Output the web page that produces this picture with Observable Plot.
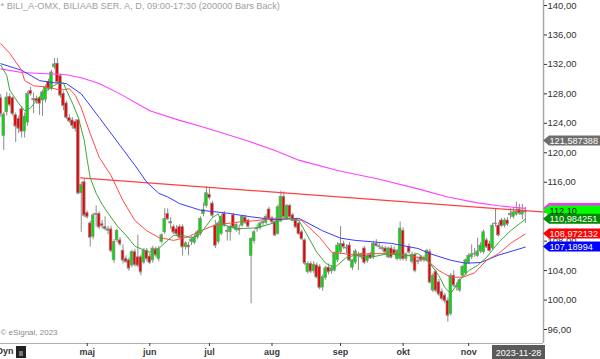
<!DOCTYPE html>
<html>
<head>
<meta charset="utf-8">
<script src="https://cdn.jsdelivr.net/npm/d3@7"></script>
<script src="https://cdn.jsdelivr.net/npm/@observablehq/plot@0.6"></script>
<style>
html,body{margin:0;padding:0;background:#fff;}
#chart{width:600px;height:359px;overflow:hidden;}
svg{display:block;}
</style>
</head>
<body>
<div id="chart"></div>
<script>
// ---- Daily OHLC, BILI_A (trading-day index 0 = 2023-03-17 ... 176 = 2023-11-28)
const opens = [127.4,122.3,125.5,127.6,127.4,125.1,124.6,125.9,122.9,124.1,128.4,127.3,127.3,127.4,127.1,127.2,129.6,128.7,131.6,132.1,
130.4,128.0,126.7,124.7,124.4,124.2,124.4,114.5,116.0,111.8,110.4,108.6,111.6,111.7,110.3,109.9,109.4,109.6,105.4,108.1,
108.1,106.7,105.6,105.4,104.7,106.5,105.8,105.8,105.1,106.7,105.9,105.4,106.9,105.6,107.9,109.2,111.7,110.4,109.9,109.6,
109.9,109.9,107.2,107.4,107.9,107.8,108.5,109.0,111.7,112.8,114.3,113.1,110.1,107.9,109.0,111.7,109.4,109.2,111.5,109.5,
109.6,110.1,111.2,110.8,106.0,108.0,109.6,109.8,110.4,110.5,112.3,111.1,110.6,109.0,110.8,114.0,111.0,112.8,111.5,110.8,
110.4,109.2,108.1,103.8,104.9,103.9,104.7,104.5,101.7,103.0,104.4,103.9,104.0,105.4,106.5,107.6,107.0,107.4,104.4,105.1,
106.1,105.8,107.0,105.3,106.1,105.8,107.6,107.2,106.9,107.0,105.8,107.0,106.8,105.6,105.6,109.4,105.6,107.2,105.2,106.1,
105.2,105.8,105.4,105.4,106.5,101.3,103.8,102.4,101.1,100.6,99.9,98.1,103.3,101.7,101.3,103.3,103.6,105.0,105.8,106.2,
106.0,106.6,106.5,108.1,107.6,107.0,110.3,110.1,110.8,110.1,110.8,111.5,111.3,111.6,112.3,111.6,111.9];
const highs = [127.9,125.5,128.2,128.0,127.6,125.4,125.0,126.2,125.4,128.3,128.9,128.1,127.7,127.6,128.5,129.2,130.0,131.2,132.8,132.8,
130.7,128.3,127.0,125.2,124.8,124.5,124.6,116.0,116.4,112.1,110.7,111.8,112.8,112.0,110.8,111.3,110.0,110.0,108.2,109.6,
108.5,107.5,106.0,105.7,106.8,106.9,108.8,106.1,107.0,107.0,106.3,107.3,107.2,107.3,109.0,112.4,112.4,111.2,110.2,110.1,
110.2,110.2,107.9,107.8,108.6,108.8,109.5,111.3,113.2,115.4,115.2,113.4,110.8,110.7,111.6,112.0,110.0,110.2,111.8,110.5,
110.2,111.5,111.5,111.0,108.5,109.5,110.2,110.6,110.9,111.6,112.6,111.4,110.9,112.9,114.8,114.7,113.0,113.0,111.8,111.0,
110.6,109.5,108.3,105.2,105.2,105.2,105.0,104.8,103.4,104.6,104.9,104.7,106.5,107.8,110.0,108.0,107.5,107.8,105.5,106.9,
106.5,106.4,107.3,106.2,106.5,107.9,108.2,107.8,107.4,107.3,107.2,107.4,107.2,106.9,110.6,109.8,106.4,107.6,106.5,106.4,
105.8,106.1,106.0,106.9,106.9,103.6,104.1,102.8,101.5,100.9,100.3,103.6,104.0,102.4,102.9,104.7,105.6,106.3,107.5,107.0,
108.4,107.8,109.5,108.4,108.0,110.4,112.4,110.5,111.1,111.1,111.2,112.4,112.5,113.3,113.0,113.0,112.6];
const lows = [124.8,120.3,125.0,126.2,125.0,121.4,122.6,122.0,122.0,123.6,127.7,125.3,126.6,125.1,124.9,126.8,128.4,128.4,131.3,129.3,
127.4,125.7,124.5,124.0,123.2,122.8,114.3,109.2,111.2,111.0,107.2,108.2,109.9,109.6,109.6,109.4,108.9,106.4,105.0,107.8,
107.3,104.9,105.0,103.9,104.4,104.5,104.4,103.3,104.8,105.2,104.8,105.0,105.8,105.2,107.6,108.9,110.8,109.6,108.9,108.7,
108.3,106.0,106.8,106.0,107.4,107.5,108.2,108.7,111.3,112.5,113.6,111.2,107.0,107.6,108.7,109.9,108.0,108.0,109.6,109.2,
108.8,109.9,110.3,109.8,99.5,107.6,109.2,109.5,110.0,110.2,110.8,110.3,108.6,108.8,110.5,111.0,110.8,111.1,110.6,109.7,
108.8,108.1,104.7,103.5,103.6,103.6,102.9,101.4,101.2,102.7,103.4,103.5,103.8,105.1,106.2,106.9,106.3,105.2,104.0,104.8,
104.0,105.5,104.8,105.0,105.5,105.5,107.2,106.8,106.6,106.3,105.6,105.6,106.0,105.3,105.3,105.3,105.2,106.2,104.9,103.7,
104.8,105.1,105.1,105.2,102.2,101.0,101.0,100.5,99.9,99.5,97.0,97.8,101.7,101.2,101.0,103.0,103.3,104.8,105.5,105.8,
105.8,106.3,106.2,107.0,106.5,106.8,109.9,108.6,109.9,109.8,110.0,111.0,111.0,111.4,111.5,110.9,110.4];
const closes = [125.3,125.2,127.5,126.5,125.3,123.6,123.3,122.9,124.9,128.0,128.0,127.2,127.0,126.7,128.2,128.9,128.7,130.9,132.0,129.6,
127.8,126.4,124.8,124.3,123.7,123.3,114.5,115.6,111.5,111.3,108.5,111.5,111.7,109.9,110.1,109.7,109.6,106.7,107.9,109.4,
107.6,105.4,105.2,104.3,106.5,104.8,104.7,103.8,106.7,105.6,105.1,107.0,106.1,106.9,108.8,111.0,111.0,110.6,109.2,109.0,
108.5,107.2,107.7,107.2,108.2,108.5,109.2,111.0,112.2,114.5,113.9,111.5,107.4,110.4,111.3,110.1,109.3,109.9,109.9,110.2,
109.5,111.3,110.5,110.0,108.3,109.2,109.8,110.4,110.6,111.3,111.0,110.6,108.8,112.6,114.0,111.3,112.8,111.3,110.8,109.9,
109.0,108.3,105.0,104.9,103.9,104.8,103.1,101.7,103.1,104.3,103.8,104.3,106.3,107.4,107.6,107.2,107.1,105.4,105.4,106.6,
106.0,106.2,105.1,106.0,105.7,107.6,107.4,107.3,107.1,106.5,107.0,105.8,106.3,106.7,109.7,105.6,106.2,106.5,106.1,104.0,
105.3,105.4,105.7,106.7,102.4,103.3,101.3,100.8,100.2,99.9,97.9,103.3,102.0,101.9,102.7,104.5,105.4,106.0,106.2,106.3,
106.6,107.4,109.2,107.2,106.7,110.1,110.4,108.8,110.1,110.8,110.3,111.7,111.9,112.0,111.8,112.1,112.1];

// ---- Moving averages (trading-day index, value)
const maShortIdx = [0,2,3,6,8,10,12,14,17,19,21,22,24,26,28,29,30,32,34,36,39,42,45,48,50,53,56,58,62,64,67,69,71,73,74,77,80,86,91,96,100,102,106,109,112,116,119,124,130,136,140,144,147,149,151,154,157,160,163,167,171,176];
const maShortVal = [131.9,130.5,128.5,126.7,125.7,126.1,127.1,128.0,128.9,129.4,129.5,128.5,126.8,124.8,121.7,119.0,116.6,114.5,113.0,111.8,110.1,108.8,107.3,106.8,106.5,107.0,108.1,108.8,108.7,108.4,109.0,110.1,111.2,111.7,110.4,109.9,109.7,109.8,110.4,111.1,110.8,109.4,106.5,105.0,104.4,105.8,106.1,105.8,106.3,106.0,106.3,105.0,103.3,101.7,100.9,102.7,104.0,104.7,105.8,107.8,109.4,110.98];
const maMidIdx = [0,3,7,8,11,16,20,23,25,27,30,33,37,41,45,49,53,58,63,67,72,80,86,91,97,101,107,111,117,125,133,140,143,147,151,155,159,163,167,171,176];
const maMidVal = [134.8,133.5,131.2,129.8,129.1,128.9,128.5,128.7,127.8,126.1,122.6,119.4,116.9,113.5,110.8,109.4,108.5,108.1,108.6,109.4,110.2,110.6,110.8,111.1,111.1,110.8,108.5,106.5,106.2,106.3,106.3,105.8,105.4,104.0,103.1,103.1,103.7,105.4,106.3,107.7,108.97];
const maLongIdx = [0,7,13,18,22,27,33,40,45,49,53,56,60,67,76,84,92,100,108,114,119,131,140,144,151,156,161,167,176];
const maLongVal = [132.1,131.2,129.8,129.5,129.4,128.0,124.8,121.0,118.3,116.0,114.5,114.0,113.1,112.2,111.8,111.3,110.9,111.1,109.4,108.4,108.1,107.7,107.0,106.3,105.4,105.0,105.1,106.1,107.19];
const ma200Idx = [0,7,17,22,27,33,40,50,60,67,83,92,100,113,127,140,150,160,167,176];
const ma200Val = [131.4,130.9,130.7,130.6,130.2,129.4,128.0,125.7,124.4,123.6,121.6,120.3,119.0,117.6,116.4,115.1,114.0,113.2,112.8,112.45];
const trendIdx = [26.8, 183.8];
const trendVal = [116.6, 111.9];

// ---- Axis text
const yTicks = [96,100,104,108,112,116,120,124,128,132,136,140];
const monthIdx = [29,50,70,91,114,135,157];
const monthLabels = ["maj","jun","jul","aug","sep","okt","nov"];
const titleText = "* BILI_A-OMX, BILIAAB SER. A, D, 09:00-17:30 (200000 Bars Back)";
const creditText = "© eSignal, 2023";
const lastDate = "2023-11-28";
const modeText = "Dyn";

// ---- Price tags on the right axis
const tagValues = [121.587388, 112.45, 112.10, 110.984251, 108.972132, 107.18994];
const tagLabels = ["121,587388", "", "112,10", "110,984251", "108,972132", "107,18994"];
const tagFills = ["#6e6e6e", "#ff33ff", "#00ff00", "#008a00", "#ff0000", "#0000ff"];
const tagText = ["#ffffff", "#ffffff", "#000000", "#ffffff", "#ffffff", "#ffffff"];

const UP = "#00e000", DOWN = "#f00000", OUTLINE = "#8c8c8c";
const FONT = "'Liberation Sans', Arial, sans-serif";
const xDomain = [-0.1, 182.1];
const yDomain = [94.1, 140.68];

const candles = opens.map((o, i) => ({i, o, h: highs[i], l: lows[i], c: closes[i]}));
const pts = (idx, val) => idx.map((x, k) => ({x, y: val[k]}));

const plot = Plot.plot({
  width: 600, height: 359,
  marginLeft: 0, marginRight: 57, marginTop: 0, marginBottom: 16,
  style: {fontFamily: FONT, background: "#ffffff"},
  x: {domain: xDomain},
  y: {domain: yDomain},
  marks: [
    Plot.ruleX(candles, {x: "i", y1: "l", y2: "h", stroke: OUTLINE, strokeWidth: 1}),
    Plot.rect(candles, {x1: d => d.i - 0.45, x2: d => d.i + 0.45, y1: "o", y2: "c",
      fill: d => d.c >= d.o ? UP : DOWN, stroke: OUTLINE, strokeWidth: 0.7}),
    Plot.ruleY(candles, {y: "c", x1: d => d.i - 0.45, x2: d => d.i + 0.45, stroke: OUTLINE, strokeWidth: 0.8}),
    Plot.line(pts(ma200Idx, ma200Val), {x: "x", y: "y", stroke: "#ff40ff", strokeWidth: 1.1}),
    Plot.line(pts(trendIdx, trendVal), {x: "x", y: "y", stroke: "#ff4040", strokeWidth: 1.3}),
    Plot.line(pts(maLongIdx, maLongVal), {x: "x", y: "y", stroke: "#3a3aff", strokeWidth: 1}),
    Plot.line(pts(maMidIdx, maMidVal), {x: "x", y: "y", stroke: "#ff4a4a", strokeWidth: 1}),
    Plot.line(pts(maShortIdx, maShortVal), {x: "x", y: "y", stroke: "#3aa83a", strokeWidth: 1}),
    Plot.ruleX([xDomain[1]], {stroke: "#a8a8a8", strokeWidth: 1.5}),
    Plot.ruleY([yDomain[0]], {stroke: "#b0b0b0", strokeWidth: 1}),
    Plot.axisY({anchor: "right", ticks: yTicks, tickFormat: d => d.toFixed(2).replace(".", ","),
      tickSize: 3, tickPadding: 1, fontSize: 9.5, color: "#333333"}),
    Plot.axisX({anchor: "bottom", ticks: monthIdx, tickFormat: d => monthLabels[monthIdx.indexOf(d)],
      tickSize: 3, tickPadding: 2, fontSize: 9, fontWeight: "bold", color: "#3a3a3a"}),
    Plot.text([titleText], {frameAnchor: "top-left", dx: 0, dy: 2, textAnchor: "start",
      fill: "#a0a0a0", fontSize: 9.2}),
    Plot.text([creditText], {frameAnchor: "bottom-left", dx: 0, dy: -9, textAnchor: "start",
      fill: "#8a8a8a", fontSize: 8}),
    Plot.text([modeText], {frameAnchor: "bottom-left", dx: -4, dy: 10, textAnchor: "start",
      fill: "#333333", fontSize: 9, fontWeight: "bold"})
  ]
});

// decorations drawn with the plot's own scales
const sy = plot.scale("y"), sx = plot.scale("x");
const svg = d3.select(plot);
const axisX = sx.apply(xDomain[1]);
const bottomY = sy.apply(yDomain[0]);
const g = svg.append("g").attr("font-family", FONT).attr("text-anchor", "start");
tagValues.forEach((v, k) => {
  const y = sy.apply(v);
  const h = 5;
  g.append("path")
    .attr("d", `M${axisX},${y} L${axisX + 6},${y - h} L600,${y - h} L600,${y + h} L${axisX + 6},${y + h} Z`)
    .attr("fill", tagFills[k]);
  if (tagLabels[k]) {
    g.append("text").attr("x", axisX + 6.5).attr("y", y + 3.4).attr("text-anchor", "start")
      .attr("font-size", 9.2).attr("fill", tagText[k]).text(tagLabels[k]);
  }
});
// date box at the right end of the time axis
g.append("rect").attr("x", axisX - 51).attr("y", bottomY + 2).attr("width", 53).attr("height", 14).attr("fill", "#5a5a5a");
g.append("text").attr("x", axisX - 24.5).attr("y", bottomY + 12.5).attr("text-anchor", "middle")
  .attr("font-size", 9).attr("fill", "#ffffff").text(lastDate);
// lock icon next to mode label
g.append("rect").attr("x", 16).attr("y", bottomY + 3).attr("width", 10).attr("height", 12).attr("fill", "#222");
g.append("rect").attr("x", 19).attr("y", bottomY + 8).attr("width", 4).attr("height", 5).attr("fill", "#777");

document.getElementById("chart").appendChild(plot);
</script>
</body>
</html>
